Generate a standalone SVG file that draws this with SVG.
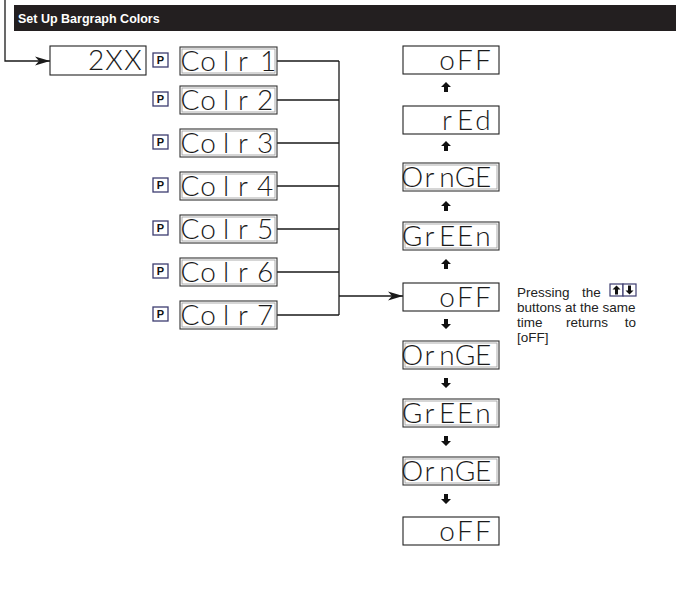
<svg xmlns="http://www.w3.org/2000/svg" width="676" height="598" viewBox="0 0 676 598">
<style>
.ln{stroke:#1a1a1a;stroke-width:1.3;fill:none}
.box{fill:#fff;stroke:#222;stroke-width:1.1}
.dbox{fill:#fff;stroke:#333;stroke-width:1.1}
.dinner{fill:none;stroke:#9a9a9a;stroke-width:0.8}
.seg{font-family:Lato,"DejaVu Sans",sans-serif;font-weight:300;font-size:28px;fill:#1a1a1a;text-anchor:middle}
.pb{fill:#fff;stroke:#3d3d70;stroke-width:1.3}
.pt{font-family:"Liberation Sans",Arial,sans-serif;font-weight:bold;font-size:11px;fill:#111;text-anchor:middle}
.note{font-family:"Liberation Sans",Arial,sans-serif;font-size:13.5px;fill:#222}
.title{font-family:"Liberation Sans",Arial,sans-serif;font-weight:bold;font-size:12.5px;fill:#fff}
.ib{fill:#fff;stroke:#3d3d70;stroke-width:1.2}
</style>
<defs>
<marker id="ah" markerWidth="16" markerHeight="10" refX="15" refY="5" orient="auto" markerUnits="userSpaceOnUse">
<path d="M0,0.5 L15,5 L0,9.5 L4,5 Z" fill="#1a1a1a"/>
</marker>
<path id="up" d="M0,-5 L5,0 L2,0 L2,5 L-2,5 L-2,0 L-5,0 Z" fill="#111"/>
<path id="dn" d="M0,5 L5,0 L2,0 L2,-5 L-2,-5 L-2,0 L-5,0 Z" fill="#111"/>
</defs>

<rect x="14" y="5" width="662" height="26" fill="#231f20"/>
<text class="title" x="18" y="23">Set Up Bargraph Colors</text>

<g id="connectors">
<path class="ln" d="M5,0 V61 H50" marker-end="url(#ah)"/>
<path class="ln" d="M277,61 H339 M277,100 H339 M277,143 H339 M277,186 H339 M277,229 H339 M277,272 H339 M277,315 H339 M339,61 V315"/>
<path class="ln" d="M339,296 H403" marker-end="url(#ah)"/>
</g>

<g id="n2xx">
<rect class="box" x="50" y="46" width="96" height="29"/>
<text class="seg" x="96 114 133" y="70" font-size="29">2XX</text>
</g>

<g id="colr1">
<rect class="pb" x="153" y="53" width="15" height="14"/><text class="pt" x="160.5" y="64">P</text>
<rect class="dbox" x="180" y="47" width="97" height="28"/><rect class="dinner" x="182" y="49" width="93" height="24"/>
<text class="seg" x="190 208 226 243 256 268" y="71">Colr 1</text>
</g>
<g id="colr2">
<rect class="pb" x="153" y="92" width="15" height="14"/><text class="pt" x="160.5" y="103">P</text>
<rect class="dbox" x="180" y="86" width="97" height="28"/><rect class="dinner" x="182" y="88" width="93" height="24"/>
<text class="seg" x="190 208 226 243 265" y="110">Colr2</text>
</g>
<g id="colr3">
<rect class="pb" x="153" y="135" width="15" height="14"/><text class="pt" x="160.5" y="146">P</text>
<rect class="dbox" x="180" y="129" width="97" height="28"/><rect class="dinner" x="182" y="131" width="93" height="24"/>
<text class="seg" x="190 208 226 243 265" y="153">Colr3</text>
</g>
<g id="colr4">
<rect class="pb" x="153" y="178" width="15" height="14"/><text class="pt" x="160.5" y="189">P</text>
<rect class="dbox" x="180" y="172" width="97" height="28"/><rect class="dinner" x="182" y="174" width="93" height="24"/>
<text class="seg" x="190 208 226 243 265" y="196">Colr4</text>
</g>
<g id="colr5">
<rect class="pb" x="153" y="221" width="15" height="14"/><text class="pt" x="160.5" y="232">P</text>
<rect class="dbox" x="180" y="215" width="97" height="28"/><rect class="dinner" x="182" y="217" width="93" height="24"/>
<text class="seg" x="190 208 226 243 265" y="239">Colr5</text>
</g>
<g id="colr6">
<rect class="pb" x="153" y="264" width="15" height="14"/><text class="pt" x="160.5" y="275">P</text>
<rect class="dbox" x="180" y="258" width="97" height="28"/><rect class="dinner" x="182" y="260" width="93" height="24"/>
<text class="seg" x="190 208 226 243 265" y="282">Colr6</text>
</g>
<g id="colr7">
<rect class="pb" x="153" y="307" width="15" height="14"/><text class="pt" x="160.5" y="318">P</text>
<rect class="dbox" x="180" y="301" width="97" height="28"/><rect class="dinner" x="182" y="303" width="93" height="24"/>
<text class="seg" x="190 208 226 243 265" y="325">Colr7</text>
</g>

<g id="off1"><rect class="box" x="403" y="46" width="96" height="28"/><text class="seg" x="447 465 483" y="70">oFF</text></g>
<use href="#up" x="446" y="87"/>
<g id="red"><rect class="box" x="403" y="106" width="96" height="28"/><text class="seg" x="447 465 483" y="130">rEd</text></g>
<use href="#up" x="446" y="146"/>
<g id="orange1"><rect class="dbox" x="403" y="163" width="96" height="28"/><rect class="dinner" x="405" y="165" width="92" height="24"/><text class="seg" x="412 429.5 447 465 483" y="187">OrnGE</text></g>
<use href="#up" x="446" y="206"/>
<g id="green1"><rect class="dbox" x="403" y="222" width="96" height="28"/><rect class="dinner" x="405" y="224" width="92" height="24"/><text class="seg" x="412 429.5 447 465 483" y="246">GrEEn</text></g>
<use href="#up" x="446" y="264"/>
<g id="off2"><rect class="box" x="403" y="283" width="96" height="28"/><text class="seg" x="447 465 483" y="307">oFF</text></g>
<use href="#dn" x="446" y="324"/>
<g id="orange2"><rect class="dbox" x="403" y="341" width="96" height="28"/><rect class="dinner" x="405" y="343" width="92" height="24"/><text class="seg" x="412 429.5 447 465 483" y="365">OrnGE</text></g>
<use href="#dn" x="446" y="383"/>
<g id="green2"><rect class="dbox" x="403" y="399" width="96" height="28"/><rect class="dinner" x="405" y="401" width="92" height="24"/><text class="seg" x="412 429.5 447 465 483" y="423">GrEEn</text></g>
<use href="#dn" x="446" y="441"/>
<g id="orange3"><rect class="dbox" x="403" y="457" width="96" height="28"/><rect class="dinner" x="405" y="459" width="92" height="24"/><text class="seg" x="412 429.5 447 465 483" y="481">OrnGE</text></g>
<use href="#dn" x="446" y="499"/>
<g id="off3"><rect class="box" x="403" y="517" width="96" height="28"/><text class="seg" x="447 465 483" y="541">oFF</text></g>

<g id="note">
<text class="note" x="517" y="297">Pressing</text>
<text class="note" x="582" y="297">the</text>
<rect class="ib" x="610" y="284" width="13" height="12"/>
<path d="M616.5,285.5 L620.5,289.5 L618,289.5 L618,294.5 L615,294.5 L615,289.5 L612.5,289.5 Z" fill="#111"/>
<rect class="ib" x="623" y="284" width="13" height="12"/>
<path d="M629.5,294.5 L633.5,290.5 L631,290.5 L631,285.5 L628,285.5 L628,290.5 L625.5,290.5 Z" fill="#111"/>
<text class="note" x="517" y="312">buttons at the same</text>
<text class="note" x="517" y="327">time</text>
<text class="note" x="587" y="327" text-anchor="middle">returns</text>
<text class="note" x="636" y="327" text-anchor="end">to</text>
<text class="note" x="517" y="342">[oFF]</text>
</g>
</svg>
